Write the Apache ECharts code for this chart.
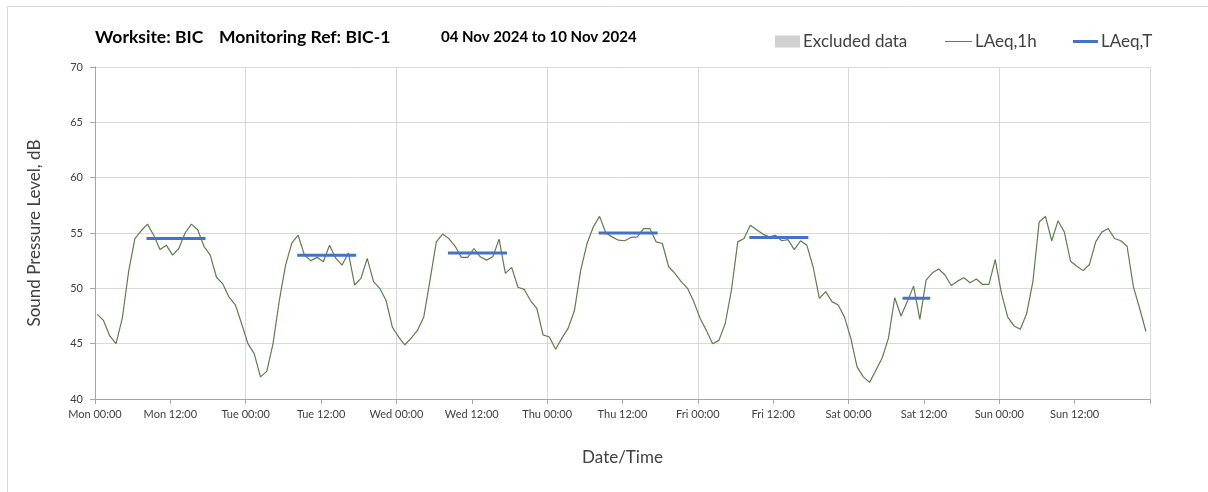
<!DOCTYPE html>
<html>
<head>
<meta charset="utf-8">
<script src="https://cdn.jsdelivr.net/npm/echarts@6/dist/echarts.min.js"></script>
<style>
html,body{margin:0;padding:0;background:#fff;}
#chart{width:1208px;height:492px;}
</style>
</head>
<body>
<div id="chart"></div>
<script>
// ---- data ----
const dayNames = ['Mon', 'Tue', 'Wed', 'Thu', 'Fri', 'Sat', 'Sun'];
const timeLabels = ['00:00', '12:00'];
const yTicks = [40, 45, 50, 55, 60, 65, 70];
const startMinute = 21; // hourly records logged at hh:21
const monLAeq1h = [47.65, 47.1, 45.7, 45.0, 47.3, 51.5, 54.5, 55.2, 55.8, 54.8, 53.5, 53.9, 53.0, 53.6, 55.0, 55.8, 55.3, 53.8, 53.0, 51.0, 50.4, 49.2, 48.5, 46.8];
const tueLAeq1h = [45.0, 44.1, 42.0, 42.5, 45.0, 48.9, 52.1, 54.1, 54.8, 53.0, 52.5, 52.8, 52.4, 53.9, 52.7, 52.1, 53.2, 50.3, 50.9, 52.7, 50.6, 50.0, 48.9, 46.5];
const wedLAeq1h = [45.6, 44.9, 45.5, 46.2, 47.4, 50.75, 54.2, 54.9, 54.5, 53.8, 52.8, 52.8, 53.6, 52.85, 52.55, 52.85, 54.45, 51.35, 51.9, 50.1, 49.9, 48.9, 48.2, 45.8];
const thuLAeq1h = [45.6, 44.5, 45.5, 46.4, 48.0, 51.65, 54.05, 55.55, 56.5, 55.0, 54.65, 54.35, 54.3, 54.6, 54.65, 55.4, 55.4, 54.2, 54.05, 51.95, 51.35, 50.6, 50.0, 48.8];
const friLAeq1h = [47.3, 46.2, 45.0, 45.3, 46.8, 49.85, 54.2, 54.5, 55.7, 55.3, 54.9, 54.65, 54.8, 54.3, 54.4, 53.5, 54.3, 53.9, 51.95, 49.1, 49.7, 48.8, 48.5, 47.4];
const satLAeq1h = [45.5, 42.9, 42.0, 41.5, 42.6, 43.7, 45.5, 49.15, 47.5, 48.8, 50.2, 47.2, 50.75, 51.4, 51.75, 51.2, 50.25, 50.65, 50.95, 50.5, 50.85, 50.35, 50.35, 52.6];
const sunLAeq1h = [49.55, 47.4, 46.6, 46.3, 47.7, 50.6, 56.0, 56.5, 54.3, 56.1, 55.1, 52.45, 52.0, 51.6, 52.15, 54.2, 55.1, 55.4, 54.5, 54.3, 53.8, 50.15, 48.2, 46.1];
// LAeq,T periods: day index, start hour, end hour, level
const periodDay   = [0, 1, 2, 3, 4, 5];
const periodStart = [8.2, 8.2, 8.2, 8.2, 8.2, 8.6];
const periodEnd   = [17.6, 17.6, 17.6, 17.6, 17.6, 13.0];
const periodLevel = [54.5, 53.0, 53.2, 55.0, 54.6, 49.1];

// ---- build ----
const allDays = [monLAeq1h, tueLAeq1h, wedLAeq1h, thuLAeq1h, friLAeq1h, satLAeq1h, sunLAeq1h];
const lineData = [];
allDays.forEach((arr, d) => arr.forEach((v, h) => lineData.push([d * 24 + h + startMinute / 60, v])));

const FONT = 'Lato, "Open Sans", sans-serif';
const periodSeries = periodDay.map((d, i) => ({
  name: 'LAeq,T', type: 'line', symbol: 'none', silent: true,
  lineStyle: {color: '#4472c4', width: 3, cap: 'butt'},
  itemStyle: {color: '#4472c4'},
  data: [[d * 24 + periodStart[i], periodLevel[i]], [d * 24 + periodEnd[i], periodLevel[i]]],
  z: 5
}));

const titleStyle = {fontFamily: FONT, fontSize: 17.5, fontWeight: 'bold', color: '#000'};
const legendText = {fontFamily: FONT, fontSize: 17, color: '#404040', padding: [0, 0, 0, -2]};

const chart = echarts.init(document.getElementById('chart'), null, {renderer: 'canvas'});
chart.setOption({
  backgroundColor: '#fff',
  animation: false,
  title: [
    {text: 'Worksite: BIC', left: 95, top: 28, padding: 0, textStyle: titleStyle},
    {text: 'Monitoring Ref: BIC-1', left: 219, top: 28, padding: 0, textStyle: titleStyle},
    {text: '04 Nov 2024 to 10 Nov 2024', left: 441, top: 30, padding: 0,
     textStyle: Object.assign({}, titleStyle, {fontSize: 15})}
  ],
  graphic: [{
    type: 'rect', left: 5, top: 4, silent: true,
    shape: {width: 1400, height: 700},
    style: {fill: 'none', stroke: '#d9d9d9', lineWidth: 1}
  }],
  legend: [
    {data: [{name: 'Excluded data', icon: 'rect'}], left: 775, top: 33, padding: 0, itemWidth: 25, itemHeight: 12, itemGap: 3, textStyle: legendText},
    {data: [{name: 'LAeq,1h', icon: 'rect'}], left: 945, top: 33, padding: 0, itemWidth: 27, itemHeight: 1, textStyle: legendText},
    {data: [{name: 'LAeq,T', icon: 'rect'}], left: 1073, top: 33, padding: 0, itemWidth: 25, itemHeight: 3, textStyle: legendText}
  ],
  grid: {left: 95, right: 58, top: 67, bottom: 93, containLabel: false},
  xAxis: [
    {
      type: 'value', min: 0, max: 168, interval: 12,
      name: 'Date/Time', nameLocation: 'middle', nameGap: 50,
      nameTextStyle: {fontFamily: FONT, fontSize: 17, color: '#404040'},
      axisLine: {show: true, lineStyle: {color: '#a6a6a6', width: 1}},
      axisTick: {show: true, length: 5, lineStyle: {color: '#a6a6a6'}},
      splitLine: {show: false},
      axisLabel: {
        fontFamily: FONT, fontSize: 11, color: '#404040', margin: 10,
        formatter: v => v >= 168 ? '' : dayNames[Math.floor(v / 24)] + ' ' + timeLabels[(v % 24) / 12]
      }
    },
    {
      type: 'value', min: 0, max: 168, interval: 24, position: 'bottom',
      axisLine: {show: false}, axisTick: {show: false}, axisLabel: {show: false},
      splitLine: {show: true, lineStyle: {color: '#d9d9d9', width: 1}}
    }
  ],
  yAxis: [
    {
      type: 'value', min: yTicks[0], max: yTicks[yTicks.length - 1], interval: 5,
      name: 'Sound Pressure Level, dB', nameLocation: 'middle', nameGap: 52,
      nameTextStyle: {fontFamily: FONT, fontSize: 17, color: '#404040'},
      axisLine: {show: true, lineStyle: {color: '#a6a6a6', width: 1}},
      axisTick: {show: true, length: 5, lineStyle: {color: '#a6a6a6'}},
      splitLine: {show: true, lineStyle: {color: '#d9d9d9', width: 1}},
      axisLabel: {fontFamily: FONT, fontSize: 11, color: '#404040', margin: 12}
    },
    {
      type: 'value', min: 40, max: 70, interval: 5, position: 'right',
      axisLine: {show: true, lineStyle: {color: '#a6a6a6', width: 1}},
      axisTick: {show: false}, axisLabel: {show: false}, splitLine: {show: false}
    }
  ],
  series: [
    {name: 'Excluded data', type: 'bar', data: [], itemStyle: {color: '#d0d0d0'}},
    {
      name: 'LAeq,1h', type: 'line', symbol: 'none', silent: true,
      lineStyle: {color: '#5f7d4a', width: 1.2},
      itemStyle: {color: '#5f7d4a'},
      data: lineData, z: 4
    }
  ].concat(periodSeries)
});
</script>
</body>
</html>
